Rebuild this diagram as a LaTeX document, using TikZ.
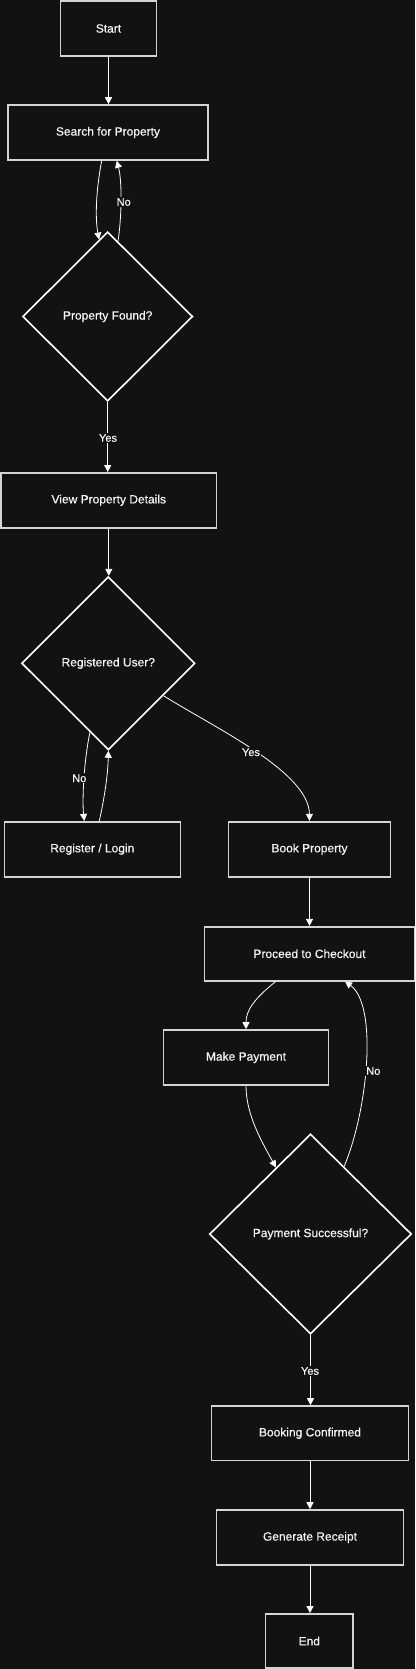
\documentclass[tikz,border=0pt]{standalone}
\usepackage{fontspec}
\setmainfont{Liberation Sans}[FakeBold=0.6]
\usetikzlibrary{shapes.geometric,arrows.meta,calc}
\definecolor{bg}{HTML}{121212}
\definecolor{boxline}{HTML}{D4D4D4}
\definecolor{txt}{HTML}{F4F4F4}
\begin{document}
\begin{tikzpicture}[x=1pt,y=-1pt,
  box/.style={draw=boxline,line width=1.6pt,fill=bg,text=txt,font=\fontsize{12}{14}\selectfont,minimum height=55pt,inner sep=0pt},
  dia/.style={diamond,draw=white!92,line width=1.6pt,fill=bg,text=txt,font=\fontsize{12}{14}\selectfont,inner sep=0pt,shape aspect=1},
  edge/.style={draw=white!95,line width=0.8pt,-{Triangle[length=7pt,width=7pt]}},
  lbl/.style={fill=bg,text=txt,font=\fontsize{11}{13}\selectfont,inner sep=1pt}]
\fill[bg] (0,0) rectangle (415,1669);
\useasboundingbox (0,0) rectangle (415,1669);

\node[box,minimum width=96pt] (start) at (108.5,28.5) {Start};
\node[box,minimum width=200pt] (search) at (108,132.5) {Search for Property};
\node[dia,minimum width=170pt,minimum height=169.4pt] (d1) at (107.7,316.5) {Property Found?};
\node[box,minimum width=215pt] (view) at (108.8,500.3) {View Property Details};
\node[dia,minimum width=173.4pt,minimum height=173.3pt] (d2) at (108.3,663.3) {Registered User?};
\node[box,minimum width=176pt] (reg) at (92.3,849.2) {Register / Login};
\node[box,minimum width=161.7pt] (book) at (309.5,849.2) {Book Property};
\node[box,minimum width=209.7pt,minimum height=54pt] (checkout) at (309.5,953.7) {Proceed to Checkout};
\node[box,minimum width=164.7pt] (pay) at (246,1057.5) {Make Payment};
\node[dia,minimum width=202pt,minimum height=200pt] (d3) at (310.5,1234) {Payment Successful?};
\node[box,minimum width=196.7pt,minimum height=54.7pt] (conf) at (310,1433.3) {Booking Confirmed};
\node[box,minimum width=186.7pt] (rec) at (310,1537.5) {Generate Receipt};
\node[box,minimum width=87.3pt,minimum height=54.3pt] (end) at (309.3,1641) {End};

% edges
\draw[edge] (start.south) -- (start.south |- search.north);
\draw[edge] ([xshift=-6.3pt]search.south) .. controls (96,190) and (95,218) .. ($(d1.north)!0.1!(d1.west)$);
\draw[edge] ($(d1.north)!0.12!(d1.east)$) .. controls (122,215) and (122,180) .. ([xshift=8.7pt]search.south);
\node[lbl] (no1) at (123.7,202) {No};
\draw[edge] (d1.south) -- (d1.south |- view.north);
\node[lbl] (yes1) at (108,438) {Yes};
\draw[edge] (view.south) -- (view.south |- d2.north);
\draw[edge] ($(d2.south)!0.21!(d2.west)$) .. controls (84,760) and (82,800) .. ([xshift=-8pt]reg.north);
\node[lbl] (no2) at (79.3,778.3) {No};
\draw[edge] ([xshift=7pt]reg.north) .. controls (104,800) and (108,775) .. (d2.south);
\draw[edge] ($(d2.east)!0.37!(d2.south)$) .. controls (215,728) and (309,772) .. (book.north);
\node[lbl] (yes2) at (251,752.3) {Yes};
\draw[edge] (book.south) -- (book.south |- checkout.north);
\draw[edge] ([xshift=-33.8pt]checkout.south) .. controls (255,998) and (246,1010) .. (pay.north);
\draw[edge] (pay.south) .. controls (246,1115) and (262,1142) .. ($(d3.north)!0.34!(d3.west)$);
\draw[edge] ($(d3.north)!0.33!(d3.east)$) .. controls (368,1110) and (378,1005) .. ([xshift=35.5pt]checkout.south);
\node[lbl] (no3) at (373.3,1071) {No};
\draw[edge] (d3.south) -- (d3.south |- conf.north);
\node[lbl] (yes3) at (310,1371) {Yes};
\draw[edge] (conf.south) -- (conf.south |- rec.north);
\draw[edge] (rec.south) -- (rec.south |- end.north);
\end{tikzpicture}
\end{document}
